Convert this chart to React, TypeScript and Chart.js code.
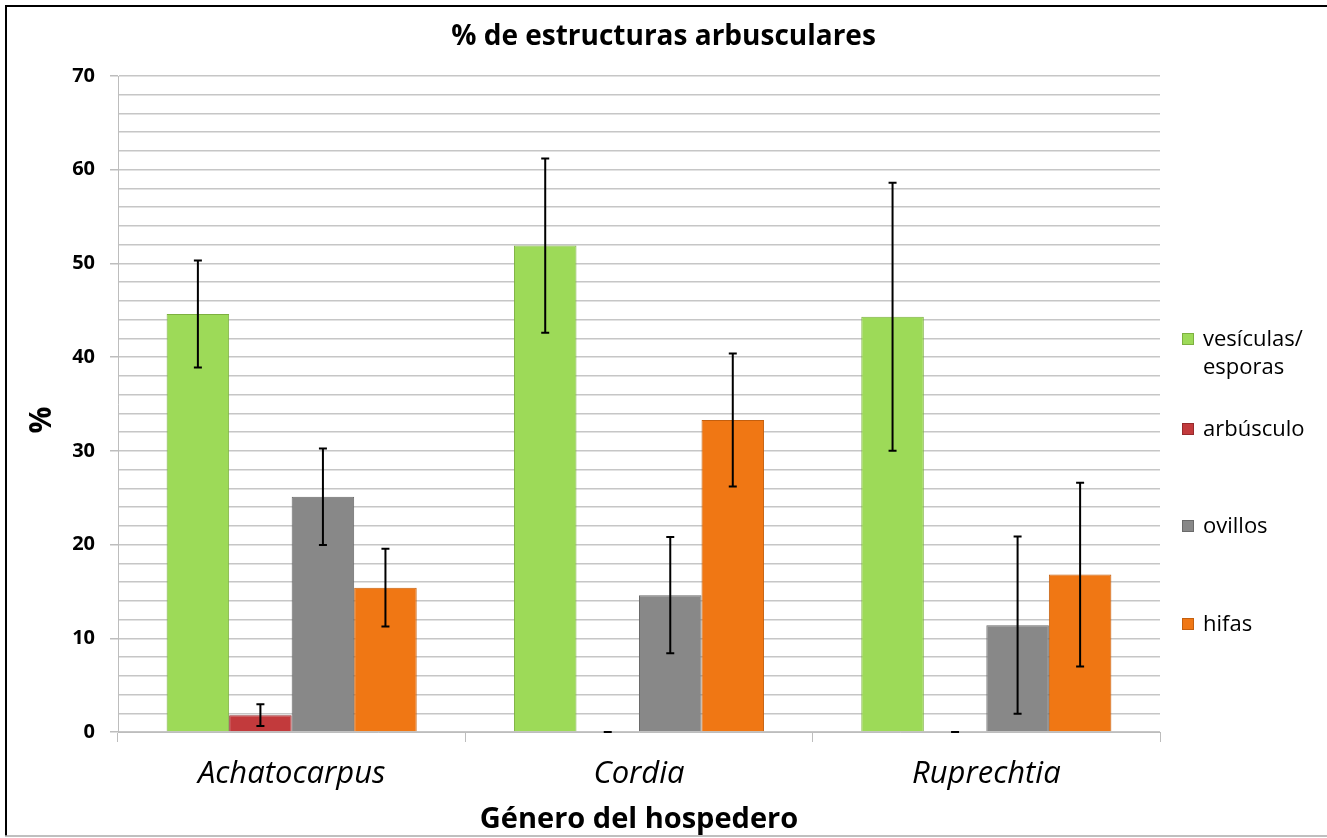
import React, { useEffect, useRef } from 'react';
import { Chart, registerables } from 'chart.js';

Chart.register(...registerables);

const categories = ['Achatocarpus', 'Cordia', 'Ruprechtia'];
const seriesNames = ['vesículas/ esporas', 'arbúsculo', 'ovillos', 'hifas'];
const vesiculas = [44.6, 51.9, 44.3];
const vesiculasErr = [5.7, 9.3, 14.3];
const arbusculo = [1.8, 0, 0];
const arbusculoErr = [1.15, 0, 0];
const ovillos = [25.1, 14.6, 11.4];
const ovillosErr = [5.15, 6.2, 9.45];
const hifas = [15.4, 33.3, 16.8];
const hifasErr = [4.15, 7.1, 9.8];
const yTickLabels = [0, 10, 20, 30, 40, 50, 60, 70];

const FONT = "'Open Sans', 'DejaVu Sans', sans-serif";
const fills = ['#9DDA58', '#C23A3C', '#888888', '#F07714'];
const borders = ['#7DB040', '#962A2C', '#6A6A6A', '#C45F0E'];

const framePlugin = {
  id: 'frame',
  beforeDraw(chart: any) {
    const { ctx, width, height } = chart;
    ctx.save();
    ctx.fillStyle = '#ffffff';
    ctx.fillRect(0, 0, width, height);
    ctx.restore();
  },
  afterDraw(chart: any) {
    const { ctx, width } = chart;
    ctx.save();
    ctx.strokeStyle = '#000000';
    ctx.lineWidth = 2;
    ctx.beginPath();
    ctx.moveTo(5, 6);
    ctx.lineTo(width, 6);
    ctx.moveTo(6, 5);
    ctx.lineTo(6, 836);
    ctx.stroke();
    ctx.strokeStyle = '#aaaaaa';
    ctx.lineWidth = 1.5;
    ctx.beginPath();
    ctx.moveTo(5, 836);
    ctx.lineTo(width, 836);
    ctx.stroke();
    // y axis title
    ctx.translate(42, 420);
    ctx.rotate(-Math.PI / 2);
    ctx.fillStyle = '#000';
    ctx.font = `bold 30px ${FONT}`;
    ctx.textAlign = 'center';
    ctx.textBaseline = 'middle';
    ctx.fillText('%', 0, 0);
    ctx.restore();
  },
};

const errPlugin = {
  id: 'errBars',
  afterDatasetsDraw(chart: any) {
    const { ctx } = chart;
    const y = chart.scales.y;
    ctx.save();
    ctx.strokeStyle = '#000000';
    ctx.lineWidth = 2;
    chart.data.datasets.forEach((ds: any, i: number) => {
      const meta = chart.getDatasetMeta(i);
      meta.data.forEach((bar: any, j: number) => {
        const v = ds.data[j];
        const e = ds.errors[j];
        const top = y.getPixelForValue(v + e);
        const bot = y.getPixelForValue(Math.max(0, v - e));
        const x = bar.x;
        ctx.beginPath();
        if (e > 0) {
          ctx.moveTo(x, top);
          ctx.lineTo(x, bot);
        }
        ctx.moveTo(x - 4, top);
        ctx.lineTo(x + 4, top);
        ctx.moveTo(x - 4, bot);
        ctx.lineTo(x + 4, bot);
        ctx.stroke();
      });
    });
    ctx.restore();
  },
};

const legendPlugin = {
  id: 'sideLegend',
  afterDraw(chart: any) {
    const { ctx } = chart;
    const ys = [339, 429, 526, 624];
    ctx.save();
    ctx.font = `22px ${FONT}`;
    ctx.textBaseline = 'middle';
    ctx.textAlign = 'left';
    chart.data.datasets.forEach((ds: any, i: number) => {
      const y0 = ys[i];
      ctx.fillStyle = ds.backgroundColor;
      ctx.fillRect(1182, y0 - 6, 12, 12);
      ctx.strokeStyle = ds.borderColor;
      ctx.lineWidth = 1;
      ctx.strokeRect(1182.5, y0 - 5.5, 11, 11);
      ctx.fillStyle = '#000';
      const words = String(ds.label).split(' ');
      words.forEach((w: string, k: number) => {
        ctx.fillText(w, 1203, y0 + 1 + k * 28);
      });
    });
    ctx.restore();
  },
};

export default function App() {
  const ref = useRef<HTMLCanvasElement | null>(null);
  useEffect(() => {
    if (!ref.current) return;
    const values = [vesiculas, arbusculo, ovillos, hifas];
    const errs = [vesiculasErr, arbusculoErr, ovillosErr, hifasErr];
    const chart = new Chart(ref.current, {
      type: 'bar',
      data: {
        labels: categories,
        datasets: seriesNames.map((name, i) => ({
          label: name,
          data: values[i],
          errors: errs[i],
          backgroundColor: fills[i],
          borderColor: borders[i],
          borderWidth: 1,
          categoryPercentage: 0.72,
          barPercentage: 1.0,
          yAxisID: 'y',
        })) as any,
      },
      options: {
        responsive: false,
        animation: false,
        layout: { padding: { left: 0, right: 0, top: 0, bottom: 0 } },
        plugins: {
          legend: { display: false },
          tooltip: { enabled: false },
          title: {
            display: true,
            text: '% de estructuras arbusculares',
            color: '#000',
            font: { family: FONT, size: 28, weight: 'bold' },
            padding: { top: 20, bottom: 22.4 },
          },
        },
        scales: {
          x: {
            afterFit: (s: any) => { s.height = 106; },
            grid: {
              display: true,
              drawOnChartArea: false,
              tickLength: 10,
              color: '#bdbdbd',
              offset: true,
            },
            border: { color: '#bdbdbd' },
            ticks: {
              color: '#000',
              padding: 14,
              font: { family: FONT, size: 31, style: 'italic' },
            },
            title: {
              display: true,
              text: 'Género del hospedero',
              color: '#000',
              font: { family: FONT, size: 29, weight: 'bold' },
              padding: { top: 0, bottom: 1 },
            },
          },
          y: {
            min: 0,
            max: 70,
            afterFit: (s: any) => { s.width = 118; },
            grid: {
              color: '#c6c6c6',
              lineWidth: 1.5,
              tickLength: 8,
              tickColor: (c: any) =>
                c.tick && yTickLabels.includes(c.tick.value) ? '#bdbdbd' : 'rgba(0,0,0,0)',
            },
            border: { color: '#bdbdbd' },
            ticks: {
              stepSize: 2,
              autoSkip: false,
              padding: 15,
              color: '#000',
              font: { family: FONT, size: 20, weight: 'bold' },
              callback: (v: any) => (yTickLabels.includes(Number(v)) ? String(v) : ''),
            },
          },
          legendSpace: {
            type: 'linear',
            position: 'right',
            display: true,
            afterFit: (s: any) => { s.width = 167; },
            grid: { display: false, drawOnChartArea: false },
            border: { display: false },
            ticks: { display: false },
          },
        },
      } as any,
      plugins: [framePlugin, errPlugin, legendPlugin],
    });
    return () => chart.destroy();
  }, []);
  return (
    <div style={{ position: 'absolute', left: 0, top: 0, width: 1327, height: 838 }}>
      <canvas ref={ref} width={1327} height={838} style={{ display: 'block' }} />
    </div>
  );
}
